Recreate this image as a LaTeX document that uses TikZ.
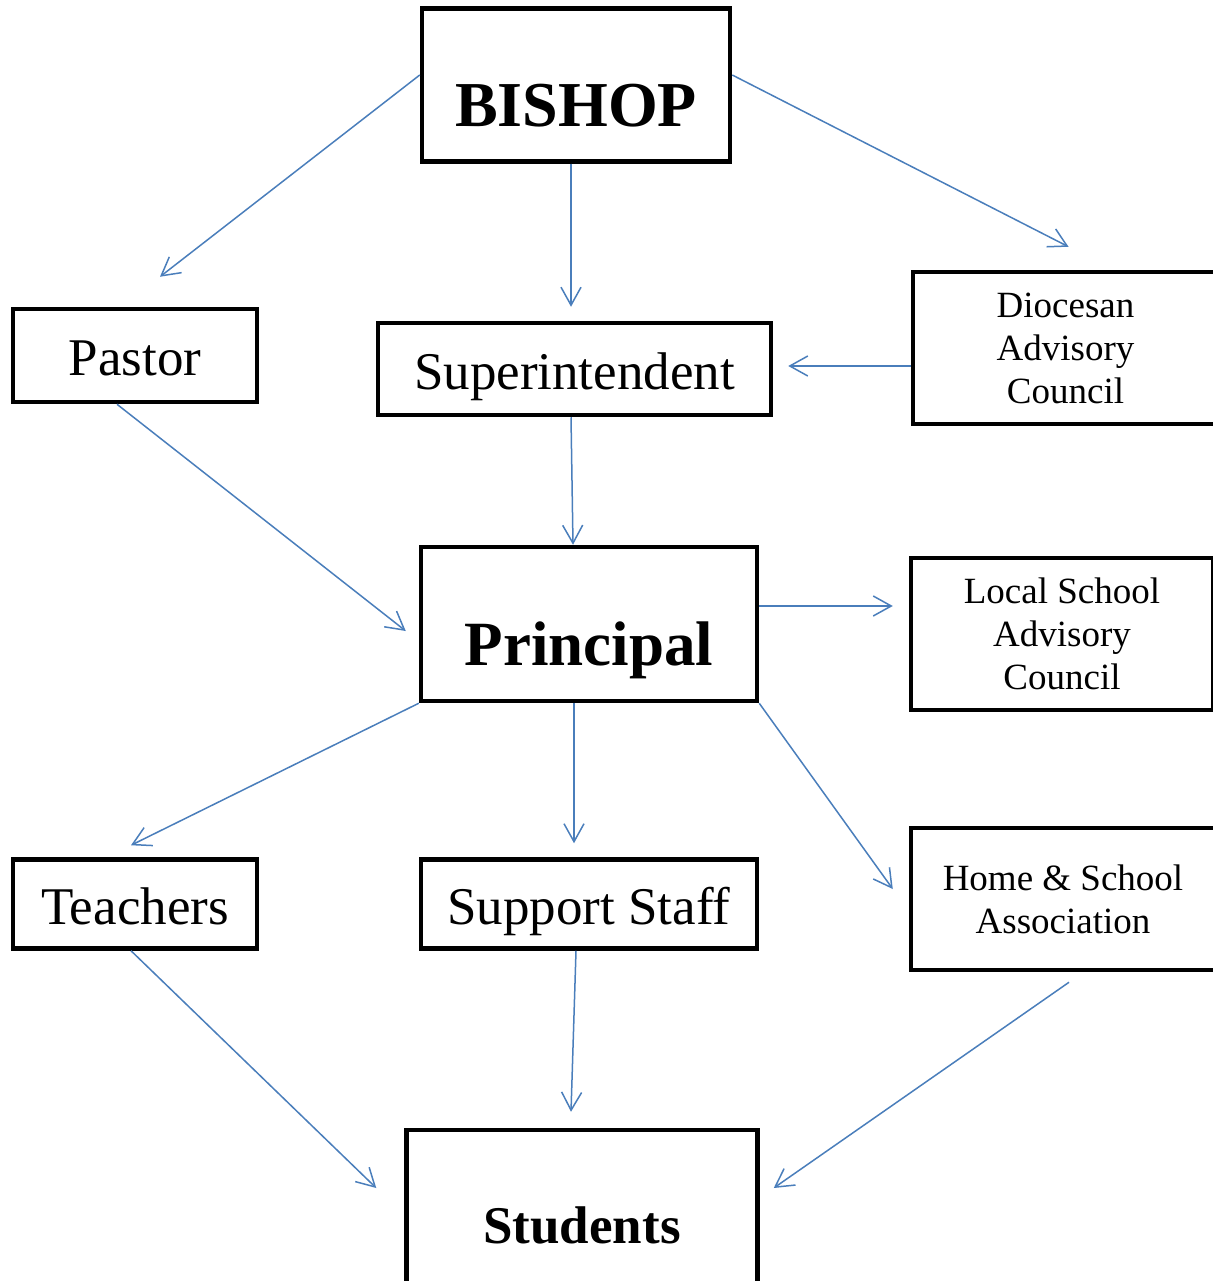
\documentclass[tikz,border=0pt]{standalone}
\usepackage{fontspec}
\setmainfont{Liberation Serif}
\usetikzlibrary{arrows.meta}
\definecolor{linkblue}{HTML}{4A7EBB}
\begin{document}
\begin{tikzpicture}
[x=1pt, y=1pt,
frame/.style ={draw, line width=4.5pt, inner sep=0pt},
box/.style ={frame, font=\fontsize{53}{63}\selectfont, text height=50pt, text depth=10pt},
head/.style ={frame, font=\fontsize{64}{77}\selectfont\bfseries, text height=84pt, text depth=0pt},
small/.style ={frame, align=center, font=\fontsize{37}{43}\selectfont},
link/.style ={draw=linkblue, line width=1.5pt, -{Straight Barb[length=18pt, width=20pt]}}]
\useasboundingbox (0,0) rectangle (1212,-1281);
\node[head, minimum width=308, minimum height=153] (bishop) at (576,-85) {BISHOP};
\node[box, minimum width=244, minimum height=93] (pastor) at (135,-355.5) {Pastor};
\node[box, minimum width=393, minimum height=92] (super) at (574.5,-369) {Superintendent};
\node[small, minimum width=305, minimum height=152] (diocesan) at (1065.5,-348) {Diocesan\\Advisory\\Council};
\node[head, font=\fontsize{63}{76}\selectfont\bfseries, text height=82pt, minimum width=336, minimum height=154] (principal) at (589,-624) {Principal};
\node[small, minimum width=302, minimum height=152] (local) at (1062,-634) {Local School\\Advisory\\Council};
\node[box, minimum width=244, minimum height=89] (teachers) at (135,-904) {Teachers};
\node[box, minimum width=336, minimum height=89] (support) at (589,-904) {Support Staff};
\node[small, minimum width=304, minimum height=142] (home) at (1063,-899) {Home \& School\\Association};
\node[frame, font=\fontsize{53}{63}\selectfont\bfseries, minimum width=351, minimum height=190] (students) at (582,-1225) {Students};
\draw[link] ([yshift=10pt]bishop.west) -- ([xshift=25pt,yshift=30pt]pastor.north);
\draw[link] ([xshift=-5pt]bishop.south) -- ([xshift=-3.5pt,yshift=14pt]super.north);
\draw[link] ([yshift=10pt]bishop.east) -- ([xshift=3pt,yshift=23pt]diocesan.north);
\draw[link] ([yshift=-18pt]diocesan.west) -- ([xshift=15pt,yshift=3pt]super.east);
\draw[link] ([xshift=-3.5pt]super.south) -- ([xshift=-16pt]principal.north);
\draw[link] ([xshift=-18pt]pastor.south) -- ([xshift=-13pt,yshift=-7pt]principal.west);
\draw[link] ([yshift=18pt]principal.east) -- ([xshift=-16pt,yshift=28pt]local.west);
\draw[link] (principal.south west) -- ([xshift=-4pt,yshift=12pt]teachers.north);
\draw[link] ([xshift=-15pt]principal.south) -- ([xshift=-15pt,yshift=14pt]support.north);
\draw[link] (principal.south east) -- ([xshift=-16pt,yshift=10pt]home.west);
\draw[link] ([xshift=-4pt]teachers.south) -- ([xshift=-28pt,yshift=37pt]students.west);
\draw[link] ([xshift=-13pt]support.south) -- ([xshift=-11pt,yshift=16pt]students.north);
\draw[link] ([xshift=6pt,yshift=-10pt]home.south) -- ([xshift=14pt,yshift=37pt]students.east);
\end{tikzpicture}
\end{document}
